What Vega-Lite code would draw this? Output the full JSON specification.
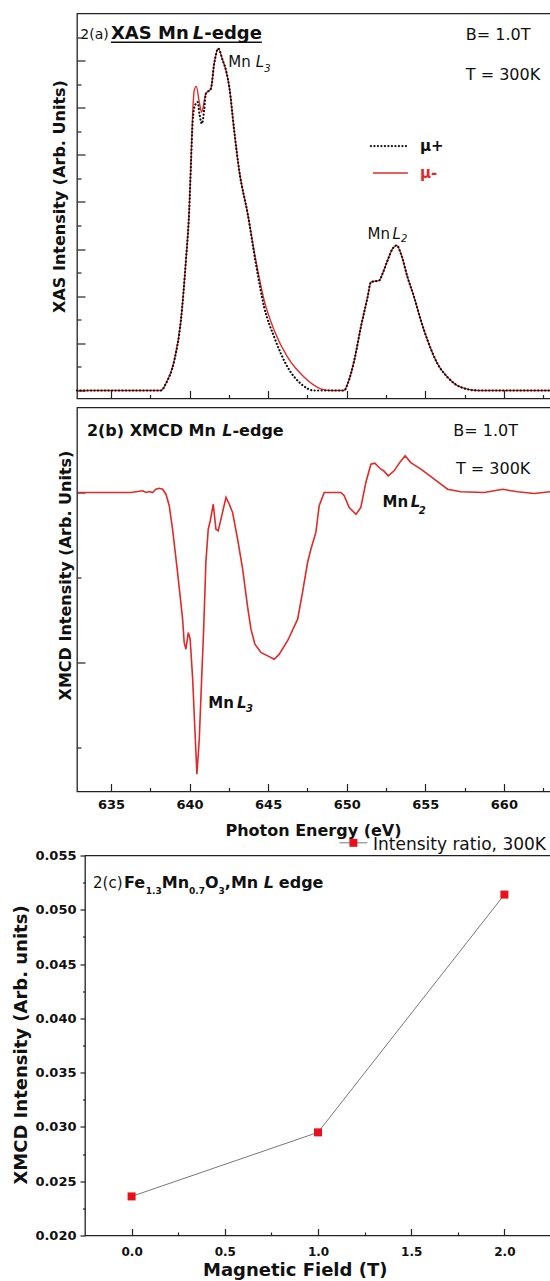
{
"$schema": "https://vega.github.io/schema/vega-lite/v6.json",
"padding": {"left": 11, "top": 12.5, "right": 0, "bottom": 0},
"background": "white",
"config": {
  "font": "DejaVu Sans",
  "view": {"stroke": "#222", "strokeWidth": 1.3},
  "axis": {"domain": false, "grid": false, "tickColor": "#222", "tickWidth": 1.2, "labelColor": "#111", "titleColor": "#111"},
  "text": {"color": "#111"}
},
"datasets": {
  "xas": [
    {"E":632.84,"I":0,"s":"mu-"},{"E":636.91,"I":0,"s":"mu-"},{"E":638.18,"I":0,"s":"mu-"},{"E":638.5,"I":0.149,"s":"mu-"},{"E":639.03,"I":0.637,"s":"mu-"},{"E":639.45,"I":1.486,"s":"mu-"},{"E":639.77,"I":2.76,"s":"mu-"},{"E":639.98,"I":3.822,"s":"mu-"},{"E":640.09,"I":4.813,"s":"mu-"},{"E":640.2,"I":5.875,"s":"mu-"},{"E":640.3,"I":6.369,"s":"mu-"},{"E":640.43,"I":6.454,"s":"mu-"},{"E":640.62,"I":6.121,"s":"mu-"},{"E":640.77,"I":5.908,"s":"mu-"},{"E":641.04,"I":6.299,"s":"mu-"},{"E":641.36,"I":6.405,"s":"mu-"},{"E":641.57,"I":6.936,"s":"mu-"},{"E":641.83,"I":7.255,"s":"mu-"},{"E":642.11,"I":7.006,"s":"mu-"},{"E":642.32,"I":6.794,"s":"mu-"},{"E":642.53,"I":6.439,"s":"mu-"},{"E":642.84,"I":5.52,"s":"mu-"},{"E":643.16,"I":4.671,"s":"mu-"},{"E":643.7,"I":3.752,"s":"mu-"},{"E":644.22,"I":2.76,"s":"mu-"},{"E":644.75,"I":1.911,"s":"mu-"},{"E":645.39,"I":1.274,"s":"mu-"},{"E":646.24,"I":0.707,"s":"mu-"},{"E":647.3,"I":0.282,"s":"mu-"},{"E":648.36,"I":0.036,"s":"mu-"},{"E":649.0,"I":0,"s":"mu-"},{"E":649.84,"I":0,"s":"mu-"},{"E":650.06,"I":0.142,"s":"mu-"},{"E":650.48,"I":0.637,"s":"mu-"},{"E":650.9,"I":1.344,"s":"mu-"},{"E":651.33,"I":1.981,"s":"mu-"},{"E":651.54,"I":2.299,"s":"mu-"},{"E":652.07,"I":2.335,"s":"mu-"},{"E":652.28,"I":2.478,"s":"mu-"},{"E":652.6,"I":2.76,"s":"mu-"},{"E":652.92,"I":3.008,"s":"mu-"},{"E":653.19,"I":3.079,"s":"mu-"},{"E":653.45,"I":2.903,"s":"mu-"},{"E":653.87,"I":2.406,"s":"mu-"},{"E":654.29,"I":1.981,"s":"mu-"},{"E":654.72,"I":1.486,"s":"mu-"},{"E":655.15,"I":1.062,"s":"mu-"},{"E":655.78,"I":0.567,"s":"mu-"},{"E":656.42,"I":0.282,"s":"mu-"},{"E":657.26,"I":0.07,"s":"mu-"},{"E":658.33,"I":0,"s":"mu-"},{"E":663.0,"I":0,"s":"mu-"},
    {"E":632.84,"I":0,"s":"mu+"},{"E":636.91,"I":0,"s":"mu+"},{"E":638.18,"I":0,"s":"mu+"},{"E":638.5,"I":0.149,"s":"mu+"},{"E":639.03,"I":0.637,"s":"mu+"},{"E":639.45,"I":1.486,"s":"mu+"},{"E":639.77,"I":2.76,"s":"mu+"},{"E":639.98,"I":3.822,"s":"mu+"},{"E":640.09,"I":4.813,"s":"mu+"},{"E":640.2,"I":5.7,"s":"mu+"},{"E":640.34,"I":6.05,"s":"mu+"},{"E":640.52,"I":6.12,"s":"mu+"},{"E":640.64,"I":5.85,"s":"mu+"},{"E":640.79,"I":5.662,"s":"mu+"},{"E":640.93,"I":5.95,"s":"mu+"},{"E":641.04,"I":6.299,"s":"mu+"},{"E":641.36,"I":6.405,"s":"mu+"},{"E":641.57,"I":6.936,"s":"mu+"},{"E":641.83,"I":7.255,"s":"mu+"},{"E":642.11,"I":7.006,"s":"mu+"},{"E":642.32,"I":6.794,"s":"mu+"},{"E":642.53,"I":6.439,"s":"mu+"},{"E":642.84,"I":5.52,"s":"mu+"},{"E":643.16,"I":4.671,"s":"mu+"},{"E":643.7,"I":3.752,"s":"mu+"},{"E":644.22,"I":2.696,"s":"mu+"},{"E":644.75,"I":1.769,"s":"mu+"},{"E":645.39,"I":1.132,"s":"mu+"},{"E":646.24,"I":0.495,"s":"mu+"},{"E":647.09,"I":0.142,"s":"mu+"},{"E":647.93,"I":0,"s":"mu+"},{"E":649.84,"I":0,"s":"mu+"},{"E":650.06,"I":0.142,"s":"mu+"},{"E":650.48,"I":0.637,"s":"mu+"},{"E":650.9,"I":1.344,"s":"mu+"},{"E":651.33,"I":1.981,"s":"mu+"},{"E":651.54,"I":2.299,"s":"mu+"},{"E":652.07,"I":2.335,"s":"mu+"},{"E":652.28,"I":2.478,"s":"mu+"},{"E":652.6,"I":2.76,"s":"mu+"},{"E":652.92,"I":3.008,"s":"mu+"},{"E":653.19,"I":3.079,"s":"mu+"},{"E":653.45,"I":2.903,"s":"mu+"},{"E":653.87,"I":2.406,"s":"mu+"},{"E":654.29,"I":1.981,"s":"mu+"},{"E":654.72,"I":1.486,"s":"mu+"},{"E":655.15,"I":1.062,"s":"mu+"},{"E":655.78,"I":0.567,"s":"mu+"},{"E":656.42,"I":0.282,"s":"mu+"},{"E":657.26,"I":0.07,"s":"mu+"},{"E":658.33,"I":0,"s":"mu+"},{"E":663.0,"I":0,"s":"mu+"}
  ],
  "xmcd": [
    {"E":632.9,"V":0},{"E":636.27,"V":0},{"E":637.02,"V":0.01},{"E":637.23,"V":0},{"E":637.44,"V":0.006},{"E":637.65,"V":0},{"E":637.86,"V":0.019},{"E":638.07,"V":0.025},{"E":638.29,"V":0.019},{"E":638.5,"V":-0.01},{"E":638.71,"V":-0.078},{"E":638.92,"V":-0.216},{"E":639.24,"V":-0.471},{"E":639.56,"V":-0.745},{"E":639.66,"V":-0.882},{"E":639.77,"V":-0.922},{"E":639.92,"V":-0.824},{"E":640.04,"V":-0.863},{"E":640.2,"V":-1.098},{"E":640.34,"V":-1.392},{"E":640.47,"V":-1.657},{"E":640.62,"V":-1.451},{"E":640.77,"V":-1.098},{"E":640.9,"V":-0.804},{"E":641.04,"V":-0.412},{"E":641.19,"V":-0.216},{"E":641.32,"V":-0.166},{"E":641.51,"V":-0.069},{"E":641.68,"V":-0.216},{"E":641.83,"V":-0.225},{"E":642.0,"V":-0.157},{"E":642.32,"V":-0.029},{"E":642.53,"V":-0.069},{"E":642.74,"V":-0.118},{"E":643.06,"V":-0.275},{"E":643.38,"V":-0.451},{"E":643.7,"V":-0.676},{"E":643.91,"V":-0.804},{"E":644.16,"V":-0.892},{"E":644.54,"V":-0.941},{"E":644.97,"V":-0.961},{"E":645.39,"V":-0.981},{"E":645.71,"V":-0.951},{"E":646.24,"V":-0.872},{"E":646.88,"V":-0.745},{"E":647.19,"V":-0.588},{"E":647.51,"V":-0.412},{"E":647.72,"V":-0.334},{"E":648.04,"V":-0.235},{"E":648.25,"V":-0.078},{"E":648.57,"V":0},{"E":649.63,"V":0},{"E":649.84,"V":-0.019},{"E":650.16,"V":-0.088},{"E":650.59,"V":-0.128},{"E":650.9,"V":-0.088},{"E":651.22,"V":0.059},{"E":651.54,"V":0.166},{"E":651.79,"V":0.172},{"E":652.18,"V":0.137},{"E":652.35,"V":0.128},{"E":652.64,"V":0.098},{"E":653.02,"V":0.128},{"E":653.45,"V":0.186},{"E":653.72,"V":0.216},{"E":654.08,"V":0.176},{"E":654.72,"V":0.137},{"E":655.57,"V":0.078},{"E":656.42,"V":0.019},{"E":657.26,"V":0.004},{"E":658.75,"V":0},{"E":659.92,"V":0.019},{"E":660.87,"V":0.004},{"E":661.93,"V":-0.006},{"E":663.0,"V":0.005}
  ],
  "ratio": [
    {"B":0,"R":0.0236},{"B":1,"R":0.0295},{"B":2,"R":0.0514}
  ]
},
"spacing": -5,
"vconcat": [
    {"spacing": 6, "vconcat": [
      {"width": 474, "height": 385,
       "resolve": {"axis": {"x": "independent", "y": "independent"}},
       "layer": [
        {"data": {"name": "xas"}, "transform": [{"filter": "datum.s == 'mu-'"}],
         "mark": {"type": "line", "color": "#e02a2a", "strokeWidth": 1.4, "interpolate": "monotone"},
         "encoding": {
           "x": {"field": "E", "type": "quantitative", "scale": {"domain": [632.84, 663.0], "nice": false, "zero": false},
                 "axis": {"orient": "bottom", "values": [635,640,645,650,655,660], "tickSize": -8, "labels": false, "title": null}},
           "y": {"field": "I", "type": "quantitative", "scale": {"domain": [-0.17, 8.0], "nice": false, "zero": false},
                 "axis": {"orient": "left", "values": [0,1,2,3,4,5,6,7], "tickSize": -8, "labels": false, "title": "XAS Intensity (Arb. Units)", "titleFontSize": 16, "titleFontWeight": "bold", "titleX": -17.5, "titleY": 182.5, "titleBaseline": "middle", "titleAlign": "center", "titleAngle": -90}}
         }},
        {"data": {"name": "xas"}, "transform": [{"filter": "datum.s == 'mu+'"}],
         "mark": {"type": "line", "color": "#111", "strokeWidth": 2.2, "strokeDash": [0.1, 3.4], "strokeCap": "round", "interpolate": "monotone"},
         "encoding": {
           "x": {"field": "E", "type": "quantitative", "axis": {"orient": "bottom", "values": [637.5,642.5,647.5,652.5,657.5,662.5], "tickSize": -4, "labels": false, "title": null}},
           "y": {"field": "I", "type": "quantitative", "axis": {"orient": "left", "values": [0.5,1.5,2.5,3.5,4.5,5.5,6.5,7.5], "tickSize": -4, "labels": false, "title": null}}
         }},
        {"data": {"values": [{}]}, "mark": {"type": "text", "align": "left", "baseline": "alphabetic", "fontSize": 14},
         "encoding": {"x": {"datum": 633.05, "type": "quantitative", "axis": null}, "y": {"datum": 7.452, "type": "quantitative", "axis": null}, "text": {"value": "2(a)"}}},
        {"data": {"values": [{}]}, "mark": {"type": "text", "align": "left", "baseline": "alphabetic", "fontSize": 18, "fontWeight": "bold"},
         "encoding": {"x": {"datum": 635.0, "type": "quantitative", "axis": null}, "y": {"datum": 7.452, "type": "quantitative", "axis": null}, "text": {"value": "XAS Mn"}}},
        {"data": {"values": [{}]}, "mark": {"type": "text", "align": "left", "baseline": "alphabetic", "fontSize": 18, "fontWeight": "bold", "fontStyle": "italic"},
         "encoding": {"x": {"datum": 640.2, "type": "quantitative", "axis": null}, "y": {"datum": 7.452, "type": "quantitative", "axis": null}, "text": {"value": "L"}}},
        {"data": {"values": [{}]}, "mark": {"type": "text", "align": "left", "baseline": "alphabetic", "fontSize": 18, "fontWeight": "bold"},
         "encoding": {"x": {"datum": 640.94, "type": "quantitative", "axis": null}, "y": {"datum": 7.452, "type": "quantitative", "axis": null}, "text": {"value": "-edge"}}},
        {"data": {"values": [{}]}, "mark": {"type": "rule", "color": "#111", "strokeWidth": 1.5},
         "encoding": {"x": {"datum": 635.0, "type": "quantitative", "axis": null}, "x2": {"datum": 644.6}, "y": {"datum": 7.389, "type": "quantitative", "axis": null}}},
        {"data": {"values": [{}]}, "mark": {"type": "text", "align": "left", "baseline": "alphabetic", "fontSize": 15},
         "encoding": {"x": {"datum": 642.46, "type": "quantitative", "axis": null}, "y": {"datum": 6.868, "type": "quantitative", "axis": null}, "text": {"value": "Mn"}}},
        {"data": {"values": [{}]}, "mark": {"type": "text", "align": "left", "baseline": "alphabetic", "fontSize": 15, "fontStyle": "italic"},
         "encoding": {"x": {"datum": 644.22, "type": "quantitative", "axis": null}, "y": {"datum": 6.868, "type": "quantitative", "axis": null}, "text": {"value": "L"}}},
        {"data": {"values": [{}]}, "mark": {"type": "text", "align": "left", "baseline": "alphabetic", "fontSize": 10, "fontStyle": "italic"},
         "encoding": {"x": {"datum": 644.75, "type": "quantitative", "axis": null}, "y": {"datum": 6.758, "type": "quantitative", "axis": null}, "text": {"value": "3"}}},
        {"data": {"values": [{}]}, "mark": {"type": "text", "align": "left", "baseline": "alphabetic", "fontSize": 16},
         "encoding": {"x": {"datum": 657.58, "type": "quantitative", "axis": null}, "y": {"datum": 7.431, "type": "quantitative", "axis": null}, "text": {"value": "B= 1.0T"}}},
        {"data": {"values": [{}]}, "mark": {"type": "text", "align": "left", "baseline": "alphabetic", "fontSize": 16},
         "encoding": {"x": {"datum": 657.58, "type": "quantitative", "axis": null}, "y": {"datum": 6.582, "type": "quantitative", "axis": null}, "text": {"value": "T = 300K"}}},
        {"data": {"values": [{}]}, "mark": {"type": "rule", "color": "#111", "strokeWidth": 2.2, "strokeDash": [0.1, 3.4], "strokeCap": "round"},
         "encoding": {"x": {"datum": 651.54, "type": "quantitative", "axis": null}, "x2": {"datum": 653.89}, "y": {"datum": 5.187, "type": "quantitative", "axis": null}}},
        {"data": {"values": [{}]}, "mark": {"type": "text", "align": "left", "baseline": "alphabetic", "fontSize": 15, "fontWeight": "bold"},
         "encoding": {"x": {"datum": 654.66, "type": "quantitative", "axis": null}, "y": {"datum": 5.074, "type": "quantitative", "axis": null}, "text": {"value": "μ+"}}},
        {"data": {"values": [{}]}, "mark": {"type": "rule", "color": "#e02a2a", "strokeWidth": 1.5},
         "encoding": {"x": {"datum": 651.67, "type": "quantitative", "axis": null}, "x2": {"datum": 653.89}, "y": {"datum": 4.614, "type": "quantitative", "axis": null}}},
        {"data": {"values": [{}]}, "mark": {"type": "text", "align": "left", "baseline": "alphabetic", "fontSize": 15, "fontWeight": "bold", "color": "#e02a2a"},
         "encoding": {"x": {"datum": 654.66, "type": "quantitative", "axis": null}, "y": {"datum": 4.501, "type": "quantitative", "axis": null}, "text": {"value": "μ-"}}},
        {"data": {"values": [{}]}, "mark": {"type": "text", "align": "left", "baseline": "alphabetic", "fontSize": 15},
         "encoding": {"x": {"datum": 651.33, "type": "quantitative", "axis": null}, "y": {"datum": 3.221, "type": "quantitative", "axis": null}, "text": {"value": "Mn"}}},
        {"data": {"values": [{}]}, "mark": {"type": "text", "align": "left", "baseline": "alphabetic", "fontSize": 15, "fontStyle": "italic"},
         "encoding": {"x": {"datum": 652.92, "type": "quantitative", "axis": null}, "y": {"datum": 3.221, "type": "quantitative", "axis": null}, "text": {"value": "L"}}},
        {"data": {"values": [{}]}, "mark": {"type": "text", "align": "left", "baseline": "alphabetic", "fontSize": 10, "fontStyle": "italic"},
         "encoding": {"x": {"datum": 653.45, "type": "quantitative", "axis": null}, "y": {"datum": 3.142, "type": "quantitative", "axis": null}, "text": {"value": "2"}}}
       ]},
      {"width": 474, "height": 384,
       "resolve": {"axis": {"x": "independent", "y": "independent"}},
       "layer": [
        {"data": {"name": "xmcd"},
         "mark": {"type": "line", "color": "#e02a2a", "strokeWidth": 1.6},
         "encoding": {
           "x": {"field": "E", "type": "quantitative", "scale": {"domain": [632.84, 663.0], "nice": false, "zero": false},
                 "axis": {"orient": "bottom", "values": [635,640,645,650,655,660], "tickSize": -8, "labels": false, "title": null}},
           "y": {"field": "V", "type": "quantitative", "scale": {"domain": [-1.759, 0.5], "nice": false, "zero": false},
                 "axis": {"orient": "left", "values": [0,-1], "tickSize": -8, "labels": false, "title": "XMCD Intensity (Arb. Units)", "titleFontSize": 16, "titleFontWeight": "bold", "titleX": -12, "titleY": 167.5, "titleBaseline": "middle", "titleAlign": "center", "titleAngle": -90}}
         }},
        {"data": {"values": [{}]}, "mark": {"type": "text", "align": "left", "baseline": "alphabetic", "fontSize": 16, "fontWeight": "bold"},
         "encoding": {"x": {"datum": 633.47, "type": "quantitative",
                            "axis": {"orient": "bottom", "values": [635,640,645,650,655,660], "ticks": false, "labels": true, "labelFontSize": 13, "labelFontWeight": "bold", "labelPadding": 13, "labelBaseline": "middle", "title": "Photon Energy (eV)", "titleFontSize": 16, "titleFontWeight": "bold", "titleX": 236, "titleY": 39, "titleBaseline": "middle", "titleAlign": "center"}},
                      "y": {"datum": 0.333, "type": "quantitative", "axis": {"orient": "left", "values": [-1.5,-0.5], "tickSize": -4, "labels": false, "title": null}},
                      "text": {"value": "2(b) XMCD Mn"}}},
        {"data": {"values": [{}]}, "mark": {"type": "text", "align": "left", "baseline": "alphabetic", "fontSize": 16, "fontWeight": "bold", "fontStyle": "italic"},
         "encoding": {"x": {"datum": 642.08, "type": "quantitative", "axis": {"orient": "bottom", "values": [637.5,642.5,647.5,652.5,657.5,662.5], "tickSize": -4, "labels": false, "title": null}},
                      "y": {"datum": 0.333, "type": "quantitative", "axis": null}, "text": {"value": "L"}}},
        {"data": {"values": [{}]}, "mark": {"type": "text", "align": "left", "baseline": "alphabetic", "fontSize": 16, "fontWeight": "bold"},
         "encoding": {"x": {"datum": 642.73, "type": "quantitative", "axis": null}, "y": {"datum": 0.333, "type": "quantitative", "axis": null}, "text": {"value": "-edge"}}},
        {"data": {"values": [{}]}, "mark": {"type": "text", "align": "left", "baseline": "alphabetic", "fontSize": 16},
         "encoding": {"x": {"datum": 656.78, "type": "quantitative", "axis": null}, "y": {"datum": 0.333, "type": "quantitative", "axis": null}, "text": {"value": "B=  1.0T"}}},
        {"data": {"values": [{}]}, "mark": {"type": "text", "align": "left", "baseline": "alphabetic", "fontSize": 16},
         "encoding": {"x": {"datum": 656.95, "type": "quantitative", "axis": null}, "y": {"datum": 0.108, "type": "quantitative", "axis": null}, "text": {"value": "T = 300K"}}},
        {"data": {"values": [{}]}, "mark": {"type": "text", "align": "left", "baseline": "alphabetic", "fontSize": 15, "fontWeight": "bold"},
         "encoding": {"x": {"datum": 652.28, "type": "quantitative", "axis": null}, "y": {"datum": -0.088, "type": "quantitative", "axis": null}, "text": {"value": "Mn"}}},
        {"data": {"values": [{}]}, "mark": {"type": "text", "align": "left", "baseline": "alphabetic", "fontSize": 15, "fontWeight": "bold", "fontStyle": "italic"},
         "encoding": {"x": {"datum": 654.08, "type": "quantitative", "axis": null}, "y": {"datum": -0.088, "type": "quantitative", "axis": null}, "text": {"value": "L"}}},
        {"data": {"values": [{}]}, "mark": {"type": "text", "align": "left", "baseline": "alphabetic", "fontSize": 10, "fontWeight": "bold", "fontStyle": "italic"},
         "encoding": {"x": {"datum": 654.59, "type": "quantitative", "axis": null}, "y": {"datum": -0.128, "type": "quantitative", "axis": null}, "text": {"value": "2"}}},
        {"data": {"values": [{}]}, "mark": {"type": "text", "align": "left", "baseline": "alphabetic", "fontSize": 15, "fontWeight": "bold"},
         "encoding": {"x": {"datum": 641.19, "type": "quantitative", "axis": null}, "y": {"datum": -1.265, "type": "quantitative", "axis": null}, "text": {"value": "Mn"}}},
        {"data": {"values": [{}]}, "mark": {"type": "text", "align": "left", "baseline": "alphabetic", "fontSize": 15, "fontWeight": "bold", "fontStyle": "italic"},
         "encoding": {"x": {"datum": 643.02, "type": "quantitative", "axis": null}, "y": {"datum": -1.265, "type": "quantitative", "axis": null}, "text": {"value": "L"}}},
        {"data": {"values": [{}]}, "mark": {"type": "text", "align": "left", "baseline": "alphabetic", "fontSize": 10, "fontWeight": "bold", "fontStyle": "italic"},
         "encoding": {"x": {"datum": 643.59, "type": "quantitative", "axis": null}, "y": {"datum": -1.294, "type": "quantitative", "axis": null}, "text": {"value": "3"}}}
       ]}
    ]},
  {"spacing": -67, "hconcat": [
  {"width": 1, "height": 1, "view": {"stroke": null}, "data": {"values": []}, "mark": "point"},
  {"width": 466, "height": 380,
   "resolve": {"axis": {"x": "independent", "y": "independent"}},
   "layer": [
    {"data": {"name": "ratio"},
     "mark": {"type": "line", "color": "#777", "strokeWidth": 1},
     "encoding": {
       "x": {"field": "B", "type": "quantitative", "scale": {"domain": [-0.25, 2.25], "nice": false, "zero": false},
             "axis": {"orient": "bottom", "values": [0,0.5,1,1.5,2], "tickSize": -7, "labels": false, "title": null}},
       "y": {"field": "R", "type": "quantitative", "scale": {"domain": [0.02, 0.055], "nice": false, "zero": false},
             "axis": {"orient": "left", "values": [0.02,0.025,0.03,0.035,0.04,0.045,0.05,0.055], "format": ".3f", "tickSize": 5, "labelPadding": 4, "labelFontSize": 13, "labelFontWeight": "bold", "title": "XMCD Intensity (Arb. units)", "titleFontSize": 18, "titleFontWeight": "bold", "titleX": -64, "titleY": 189, "titleBaseline": "middle", "titleAlign": "center", "titleAngle": -90}}
     }},
    {"data": {"name": "ratio"},
     "mark": {"type": "point", "shape": "square", "filled": true, "color": "#e8101a", "size": 64, "opacity": 1},
     "encoding": {
       "x": {"field": "B", "type": "quantitative",
             "axis": {"orient": "bottom", "values": [0,0.5,1,1.5,2], "format": ".1f", "ticks": false, "labels": true, "labelFontSize": 12, "labelFontWeight": "bold", "labelPadding": 15.5, "labelBaseline": "middle", "title": "Magnetic Field (T)", "titleFontSize": 18, "titleFontWeight": "bold", "titleX": 209.7, "titleY": 34.5, "titleBaseline": "middle", "titleAlign": "center"}},
       "y": {"field": "R", "type": "quantitative", "axis": {"orient": "left", "values": [0.0225,0.0275,0.0325,0.0375,0.0425,0.0475,0.0525], "tickSize": 2.5, "labels": false, "title": null}}
     }},
    {"data": {"values": [{}]}, "mark": {"type": "rule", "color": "#777", "strokeWidth": 1},
     "encoding": {"x": {"datum": 1.115, "type": "quantitative", "axis": {"orient": "bottom", "values": [0.25,0.75,1.25,1.75], "tickSize": -3.5, "labels": false, "title": null}}, "x2": {"datum": 1.265}, "y": {"datum": 0.05617, "type": "quantitative", "axis": null}}},
    {"data": {"values": [{}]}, "mark": {"type": "point", "shape": "square", "filled": true, "color": "#e8101a", "size": 64, "opacity": 1},
     "encoding": {"x": {"datum": 1.19, "type": "quantitative", "axis": null}, "y": {"datum": 0.05617, "type": "quantitative", "axis": null}}},
    {"data": {"values": [{}]}, "mark": {"type": "text", "align": "left", "baseline": "alphabetic", "fontSize": 17},
     "encoding": {"x": {"datum": 1.295, "type": "quantitative", "axis": null}, "y": {"datum": 0.05555, "type": "quantitative", "axis": null}, "text": {"value": "Intensity ratio, 300K"}}},
    {"data": {"values": [{}]}, "mark": {"type": "text", "align": "left", "baseline": "alphabetic", "fontSize": 15},
     "encoding": {"x": {"datum": -0.2071, "type": "quantitative", "axis": null}, "y": {"datum": 0.05205, "type": "quantitative", "axis": null}, "text": {"value": "2(c)"}}},
    {"data": {"values": [{}]}, "mark": {"type": "text", "align": "left", "baseline": "alphabetic", "fontSize": 16, "fontWeight": "bold"},
     "encoding": {"x": {"datum": -0.0408, "type": "quantitative", "axis": null}, "y": {"datum": 0.05205, "type": "quantitative", "axis": null}, "text": {"value": "Fe"}}},
    {"data": {"values": [{}]}, "mark": {"type": "text", "align": "left", "baseline": "alphabetic", "fontSize": 9, "fontWeight": "bold"},
     "encoding": {"x": {"datum": 0.0762, "type": "quantitative", "axis": null}, "y": {"datum": 0.05141, "type": "quantitative", "axis": null}, "text": {"value": "1.3"}}},
    {"data": {"values": [{}]}, "mark": {"type": "text", "align": "left", "baseline": "alphabetic", "fontSize": 16, "fontWeight": "bold"},
     "encoding": {"x": {"datum": 0.1615, "type": "quantitative", "axis": null}, "y": {"datum": 0.05205, "type": "quantitative", "axis": null}, "text": {"value": "Mn"}}},
    {"data": {"values": [{}]}, "mark": {"type": "text", "align": "left", "baseline": "alphabetic", "fontSize": 9, "fontWeight": "bold"},
     "encoding": {"x": {"datum": 0.3079, "type": "quantitative", "axis": null}, "y": {"datum": 0.05141, "type": "quantitative", "axis": null}, "text": {"value": "0.7"}}},
    {"data": {"values": [{}]}, "mark": {"type": "text", "align": "left", "baseline": "alphabetic", "fontSize": 16, "fontWeight": "bold"},
     "encoding": {"x": {"datum": 0.3932, "type": "quantitative", "axis": null}, "y": {"datum": 0.05205, "type": "quantitative", "axis": null}, "text": {"value": "O"}}},
    {"data": {"values": [{}]}, "mark": {"type": "text", "align": "left", "baseline": "alphabetic", "fontSize": 9, "fontWeight": "bold"},
     "encoding": {"x": {"datum": 0.4662, "type": "quantitative", "axis": null}, "y": {"datum": 0.05141, "type": "quantitative", "axis": null}, "text": {"value": "3"}}},
    {"data": {"values": [{}]}, "mark": {"type": "text", "align": "left", "baseline": "alphabetic", "fontSize": 16, "fontWeight": "bold"},
     "encoding": {"x": {"datum": 0.5, "type": "quantitative", "axis": null}, "y": {"datum": 0.05205, "type": "quantitative", "axis": null}, "text": {"value": ",Mn"}}},
    {"data": {"values": [{}]}, "mark": {"type": "text", "align": "left", "baseline": "alphabetic", "fontSize": 16, "fontWeight": "bold", "fontStyle": "italic"},
     "encoding": {"x": {"datum": 0.7092, "type": "quantitative", "axis": null}, "y": {"datum": 0.05205, "type": "quantitative", "axis": null}, "text": {"value": "L"}}},
    {"data": {"values": [{}]}, "mark": {"type": "text", "align": "left", "baseline": "alphabetic", "fontSize": 16, "fontWeight": "bold"},
     "encoding": {"x": {"datum": 0.79, "type": "quantitative", "axis": null}, "y": {"datum": 0.05205, "type": "quantitative", "axis": null}, "text": {"value": "edge"}}}
   ]}
  ]}
]
}
